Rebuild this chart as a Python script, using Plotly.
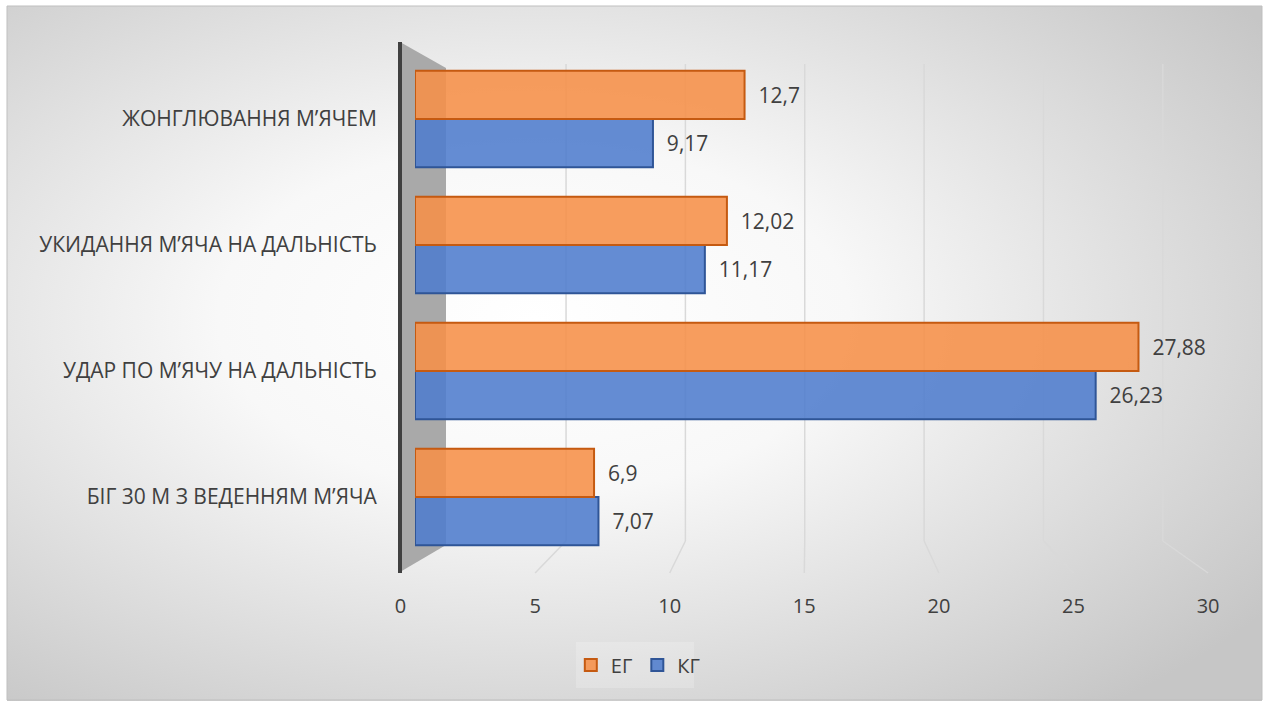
import base64
import plotly.graph_objects as go

# ---- data -------------------------------------------------------------
categories = [
    "БІГ 30 М З ВЕДЕННЯМ М’ЯЧА",
    "УДАР ПО М’ЯЧУ НА ДАЛЬНІСТЬ",
    "УКИДАННЯ М’ЯЧА НА ДАЛЬНІСТЬ",
    "ЖОНГЛЮВАННЯ М’ЯЧЕМ",
]
eg_values = [6.9, 27.88, 12.02, 12.7]
kg_values = [7.07, 26.23, 11.17, 9.17]
x_ticks = [0, 5, 10, 15, 20, 25, 30]

W, H = 1269, 704
FONT = "Open Sans"
TXT = "#404040"


def px(x):
    return x / W


def py(y):
    return 1 - y / H


def fmt(v):
    return f"{v:g}".replace(".", ",")


# horizontal pixel scales of the pseudo-3D box
FRONT0, FRONT_K = 400.5, 26.92   # floor front edge (tick labels)
BACK0, BACK_K = 446.7, 23.87     # back wall (gridlines)
BAR0, BAR_K = 415, 25.95         # bar front faces
XMAX = x_ticks[-1]

ORANGE_FILL = "rgba(246,143,72,0.88)"
ORANGE_LINE = "#c55a11"
BLUE_FILL = "rgba(78,124,205,0.88)"
BLUE_LINE = "#2f5597"

fig = go.Figure()

fig.add_trace(go.Bar(
    name="КГ", y=categories, x=kg_values, orientation="h",
    marker=dict(color=BLUE_FILL, line=dict(color=BLUE_LINE, width=2)),
    text=[fmt(v) for v in kg_values], textposition="outside",
    texttemplate="  %{text}",
    textfont=dict(family=FONT, size=21, color=TXT),
    cliponaxis=False, xaxis="x", yaxis="y",
))
fig.add_trace(go.Bar(
    name="ЕГ", y=categories, x=eg_values, orientation="h",
    marker=dict(color=ORANGE_FILL, line=dict(color=ORANGE_LINE, width=2)),
    text=[fmt(v) for v in eg_values], textposition="outside",
    texttemplate="  %{text}",
    textfont=dict(family=FONT, size=21, color=TXT),
    cliponaxis=False, xaxis="x", yaxis="y",
))
# carrier trace for the tick-label axis
fig.add_trace(go.Scatter(x=[0], y=[0], xaxis="x2", yaxis="y2",
                         mode="markers", marker=dict(opacity=0),
                         showlegend=False, hoverinfo="skip"))

# background gradient
svg = (
    '<svg xmlns="http://www.w3.org/2000/svg" width="1255" height="695">'
    '<defs><radialGradient id="g" cx="0.42" cy="0.45" r="0.72">'
    '<stop offset="0" stop-color="#ffffff"/>'
    '<stop offset="0.35" stop-color="#f8f8f8"/>'
    '<stop offset="1" stop-color="#c6c6c6"/>'
    '</radialGradient></defs>'
    '<rect width="100%" height="100%" fill="url(#g)"/></svg>'
)
bg_src = "data:image/svg+xml;base64," + base64.b64encode(svg.encode()).decode()

shapes = []
# left side wall
shapes.append(dict(
    type="path", xref="paper", yref="paper", layer="below",
    path=(f"M {px(400)} {py(42)} L {px(446)} {py(68)} "
          f"L {px(446)} {py(545)} L {px(400)} {py(572)} Z"),
    fillcolor="#a9a9a9", line=dict(width=0),
))
# back-wall gridlines and floor lines
for v in x_ticks[1:]:
    xb = BACK0 + BACK_K * v
    xf = FRONT0 + FRONT_K * v
    shapes.append(dict(type="line", xref="paper", yref="paper", layer="below",
                       x0=px(xb), x1=px(xb), y0=py(64), y1=py(541),
                       line=dict(color="#d9d9d9", width=1.5)))
    shapes.append(dict(type="line", xref="paper", yref="paper", layer="below",
                       x0=px(xb), x1=px(xf), y0=py(541), y1=py(573),
                       line=dict(color="#d9d9d9", width=1.5)))
# vertical axis line
shapes.append(dict(type="line", xref="paper", yref="paper", layer="below",
                   x0=px(400), x1=px(400), y0=py(42), y1=py(573),
                   line=dict(color="#404040", width=4)))
# chart border
shapes.append(dict(type="rect", xref="paper", yref="paper", layer="below",
                   x0=px(7), x1=px(1262), y0=py(6), y1=py(700),
                   line=dict(color="#bfbfbf", width=1)))
# legend panel
shapes.append(dict(type="rect", xref="paper", yref="paper", layer="below",
                   x0=px(576), x1=px(694), y0=py(642), y1=py(688),
                   fillcolor="rgba(255,255,255,0.2)", line=dict(width=0)))

n = len(categories)
cat_top, cat_bot = 56, 560

fig.update_layout(
    width=W, height=H, autosize=False,
    margin=dict(l=0, r=0, t=0, b=0, pad=0, autoexpand=False),
    paper_bgcolor="white",
    plot_bgcolor="rgba(0,0,0,0)",
    barmode="group", bargap=0.235, bargroupgap=0,
    font=dict(family=FONT, color=TXT),
    showlegend=True,
    legend=dict(orientation="h", x=0.503, xanchor="center",
                y=py(665), yanchor="middle", traceorder="reversed",
                font=dict(family=FONT, size=20, color=TXT),
                bgcolor="rgba(0,0,0,0)", itemwidth=30),
    xaxis=dict(domain=[px(BAR0), px(BAR0 + BAR_K * XMAX)], range=[0, XMAX],
               visible=False, anchor="y", fixedrange=True),
    yaxis=dict(domain=[py(cat_bot), py(cat_top)], range=[-0.5, n - 0.5],
               type="category", anchor="x", showgrid=False, showline=False,
               zeroline=False, ticks="outside", ticklen=33,
               tickcolor="rgba(0,0,0,0)", automargin=False,
               tickfont=dict(family=FONT, size=21, color=TXT)),
    xaxis2=dict(domain=[px(FRONT0), px(FRONT0 + FRONT_K * XMAX)],
                range=[0, XMAX], anchor="y2", tickvals=x_ticks,
                ticktext=[str(t) for t in x_ticks], showgrid=False,
                zeroline=False, showline=False, ticks="", automargin=False,
                tickfont=dict(family=FONT, size=20, color=TXT)),
    yaxis2=dict(domain=[py(592), py(590)], visible=False, anchor="x2"),
    shapes=shapes,
    images=[dict(source=bg_src, xref="paper", yref="paper",
                 x=px(7), y=py(6), sizex=px(1255), sizey=695 / H,
                 xanchor="left", yanchor="top", sizing="stretch",
                 layer="below")],
)

fig.write_html("out.html", config={"responsive": False})
